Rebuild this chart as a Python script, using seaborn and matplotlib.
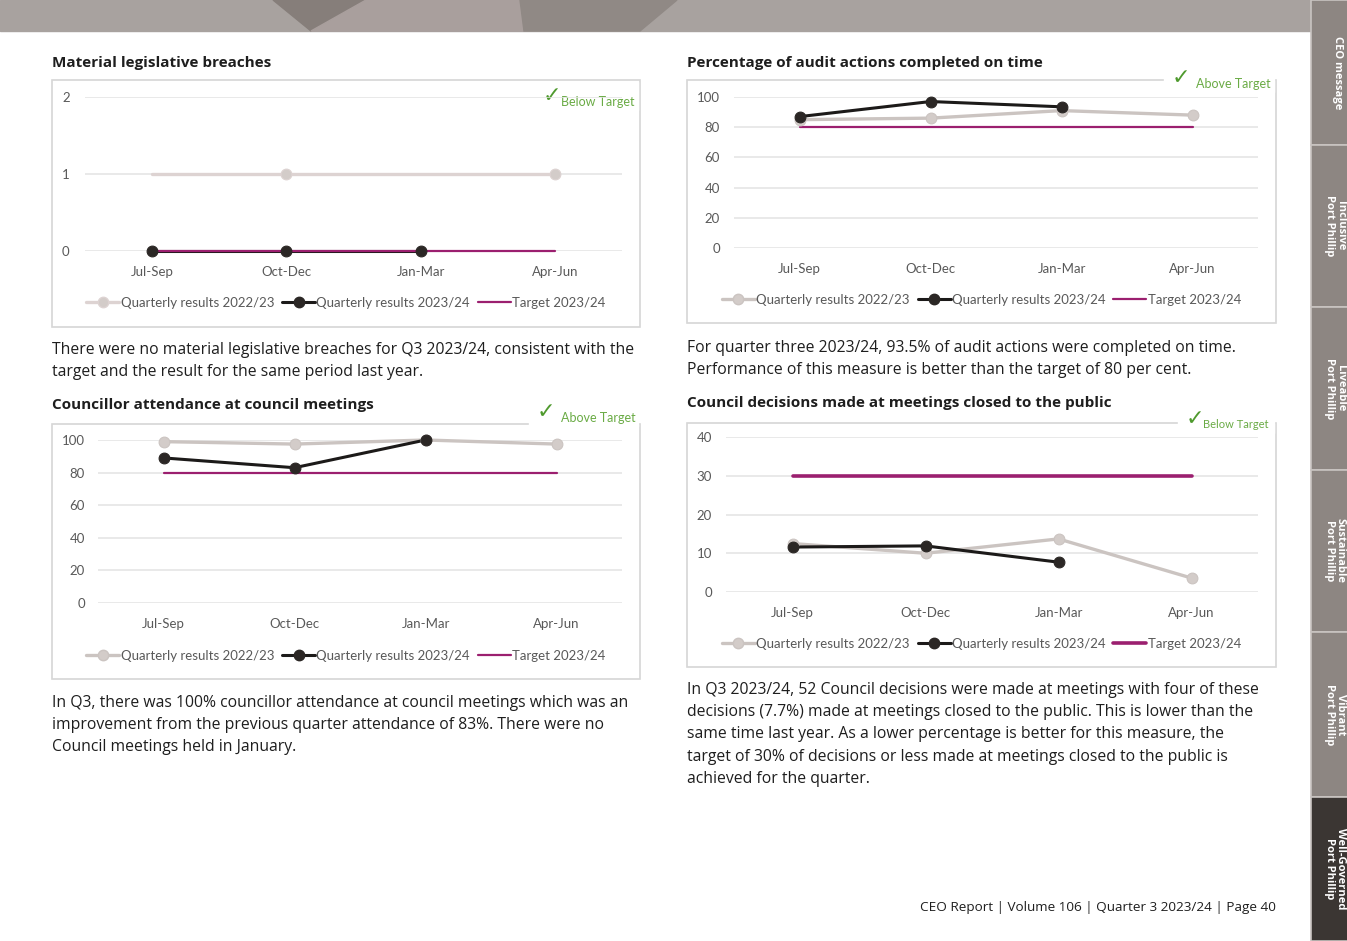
import numpy as np
import pandas as pd
import matplotlib
matplotlib.use('Agg')
import matplotlib.pyplot as plt
from matplotlib.patches import Rectangle, Polygon
from matplotlib.lines import Line2D
import seaborn as sns

# --- data ---
quarters = ["Jul-Sep", "Oct-Dec", "Jan-Mar", "Apr-Jun"]

breaches_2223 = [1, 1, 1, 1]
breaches_2324 = [0, 0, 0]
breaches_target = [0, 0, 0, 0]

audit_2223 = [85, 86, 91, 88]
audit_2324 = [87, 97, 93.5]
audit_target = [80, 80, 80, 80]

attend_2223 = [99, 97.5, 100, 97.5]
attend_2324 = [89, 83, 100]
attend_target = [80, 80, 80, 80]

closed_2223 = [12.5, 10, 13.7, 3.6]
closed_2324 = [11.6, 11.9, 7.7]
closed_target = [30, 30, 30, 30]

legend_labels = ["Quarterly results 2022/23", "Quarterly results 2023/24", "Target 2023/24"]

W, H = 1347, 941
sns.set_style('white')
plt.rcParams['font.family'] = ['Open Sans', 'DejaVu Sans']

fig = plt.figure(figsize=(W / 100, H / 100), dpi=100)
bg = fig.add_axes([0, 0, 1, 1])
bg.set_xlim(0, W)
bg.set_ylim(H, 0)
bg.axis('off')

GRAY_TXT = '#595959'
C_OLD = '#cbc4c1'
C_NEW = '#1c1a19'
C_DOT = '#2b2725'
C_TGT = '#9b1f6f'
GREEN = '#4f9a2e'

# header band
bg.add_patch(Rectangle((0, 0), 1312, 31, color='#a8a29f', zorder=1))
bg.add_patch(Polygon([(273, 0), (366, 0), (311, 31)], color='#867e7a', zorder=2))
bg.add_patch(Polygon([(366, 0), (520, 0), (524, 31), (311, 31)], color='#a99f9d', zorder=2))
bg.add_patch(Polygon([(520, 0), (677, 0), (640, 31), (524, 31)], color='#908985', zorder=2))

# side tabs
tab_edges = [0, 145, 307, 470, 632, 797, 941]
tab_names = ["CEO message", "Inclusive\nPort Phillip", "Liveable\nPort Phillip",
             "Sustainable\nPort Phillip", "Vibrant\nPort Phillip", "Well-Governed\nPort Phillip"]
for i, name in enumerate(tab_names):
    top, bot = tab_edges[i], tab_edges[i + 1]
    col = '#3b3633' if i == len(tab_names) - 1 else '#8d8682'
    bg.add_patch(Rectangle((1311, top), 40, bot - top, facecolor=col,
                           edgecolor='#c9c4c1', lw=1.2, zorder=2))
    cx = 1337 if i == 0 else 1335
    bg.text(cx, (top + bot) / 2, name, rotation=-90, ha='center', va='center',
            color='white', fontsize=8, fontweight='bold', linespacing=0.95,
            family=['Open Sans', 'DejaVu Sans'], zorder=3)


def panel(box, axbox, title, title_y, old, new, target, yticks, check, check_xy,
          text_xy, check_size, legend_y, body, body_y, ypad, tgt_lw=1.6,
          old_marks=None, old_color=C_OLD):
    bx0, by0, bx1, by1 = box
    bg.add_patch(Rectangle((bx0, by0), bx1 - bx0, by1 - by0, facecolor='white',
                           edgecolor='#d6d6d6', lw=1.2, zorder=1))
    bg.text(bx0, title_y, title, fontsize=11, fontweight='bold', color='#1e1e1e',
            va='center', ha='left', zorder=3)
    # check mark label sitting over the box border
    cx, cy = check_xy
    bg.add_patch(Rectangle((cx - 8, cy - 14), bx1 - cx + 6, 28, color='white', zorder=2))
    bg.text(cx, cy, "\u2713", fontsize=16, color=GREEN, family='DejaVu Sans',
            ha='left', va='center', zorder=3)
    bg.text(text_xy[0], text_xy[1], check, fontsize=check_size, color='#6aab45',
            family=['Lato', 'DejaVu Sans'], ha='left', va='center', zorder=3)

    x0, y0, x1, y1 = axbox
    ax = fig.add_axes([x0 / W, 1 - y1 / H, (x1 - x0) / W, (y1 - y0) / H])
    ax.set_facecolor('none')
    pos = np.arange(len(quarters))
    sns.lineplot(x=pos[:len(old)], y=old, ax=ax, color=old_color, lw=2.4,
                 legend=False, zorder=3, clip_on=False)
    sns.lineplot(x=pos[:len(new)], y=new, ax=ax, color=C_NEW, lw=2.2,
                 legend=False, zorder=4, clip_on=False)
    sns.lineplot(x=pos[:len(target)], y=target, ax=ax, color=C_TGT, lw=tgt_lw,
                 legend=False, zorder=5, clip_on=False)
    old_idx = list(range(len(old))) if old_marks is None else old_marks
    sns.scatterplot(x=pos[old_idx], y=np.asarray(old)[old_idx], ax=ax, s=60,
                    color='#d3ccc9', edgecolor=old_color, linewidth=0.8,
                    legend=False, zorder=6, clip_on=False)
    sns.scatterplot(x=pos[:len(new)], y=new, ax=ax, s=60, color=C_DOT,
                    edgecolor=C_DOT, linewidth=0.8, legend=False, zorder=7,
                    clip_on=False)
    ax.set_xlim(-0.5, len(quarters) - 0.5)
    ax.set_ylim(yticks[0], yticks[-1])
    ax.set_xticks(pos)
    ax.set_xticklabels(quarters)
    ax.set_yticks(yticks)
    ax.grid(axis='y', color='#e3e3e3', lw=1.1)
    ax.grid(axis='x', visible=False)
    for s in ax.spines.values():
        s.set_visible(False)
    ax.tick_params(length=0, labelsize=9.5, labelcolor=GRAY_TXT)
    ax.tick_params(axis='x', pad=11)
    ax.tick_params(axis='y', pad=ypad)
    for lab in ax.get_xticklabels() + ax.get_yticklabels():
        lab.set_family(['Lato', 'DejaVu Sans'])
    ax.set_xlabel('')
    ax.set_ylabel('')

    handles = [Line2D([], [], color=old_color, lw=2.4, marker='o', ms=7.5, mfc='#d3ccc9', mec=old_color),
               Line2D([], [], color=C_NEW, lw=2.2, marker='o', ms=7.5, mfc=C_DOT, mec=C_DOT),
               Line2D([], [], color=C_TGT, lw=tgt_lw)]
    leg = ax.legend(handles, legend_labels, loc='center', ncol=3, frameon=False,
                    bbox_to_anchor=((bx0 + bx1) / 2, legend_y), bbox_transform=bg.transData,
                    handlelength=2.5, handletextpad=0.1, columnspacing=0.6,
                    prop={'family': ['Lato', 'DejaVu Sans'], 'size': 9.5})
    for t in leg.get_texts():
        t.set_color(GRAY_TXT)

    for i, line in enumerate(body):
        bg.text(bx0, body_y + i * 22.2, line, fontsize=11.3, color='#1e1e1e',
                va='center', ha='left', zorder=3)
    return ax


panel((52, 80, 640, 327), (85, 97, 622, 251), "Material legislative breaches", 63,
      breaches_2223, breaches_2324, breaches_target, [0, 1, 2], "Below Target",
      (543, 96), (561, 102), 9, 303,
      ["There were no material legislative breaches for Q3 2023/24, consistent with the",
       "target and the result for the same period last year."], 350, 11,
      old_marks=[1, 3], old_color='#ddd3d2')

panel((687, 80, 1276, 323), (734, 97, 1258, 248), "Percentage of audit actions completed on time", 63,
      audit_2223, audit_2324, audit_target, [0, 20, 40, 60, 80, 100], "Above Target",
      (1172, 78), (1196, 84), 9, 300,
      ["For quarter three 2023/24, 93.5% of audit actions were completed on time.",
       "Performance of this measure is better than the target of 80 per cent."], 348, 10)

panel((52, 424, 640, 679), (98, 440, 622, 603), "Councillor attendance at council meetings", 405,
      attend_2223, attend_2324, attend_target, [0, 20, 40, 60, 80, 100], "Above Target",
      (537, 412), (561, 418), 9, 656,
      ["In Q3, there was 100% councillor attendance at council meetings which was an",
       "improvement from the previous quarter attendance of 83%. There were no",
       "Council meetings held in January."], 703, 9.5)

panel((687, 423, 1276, 667), (726, 437, 1258, 592), "Council decisions made at meetings closed to the public", 403,
      closed_2223, closed_2324, closed_target, [0, 10, 20, 30, 40], "Below Target",
      (1186, 419), (1203, 425), 8, 644,
      ["In Q3 2023/24, 52 Council decisions were made at meetings with four of these",
       "decisions (7.7%) made at meetings closed to the public. This is lower than the",
       "same time last year. As a lower percentage is better for this measure, the",
       "target of 30% of decisions or less made at meetings closed to the public is",
       "achieved for the quarter."], 690, 10, tgt_lw=2.6)

bg.text(1276, 907, "CEO Report | Volume 106 | Quarter 3 2023/24 | Page 40", fontsize=9.7,
        color='#1e1e1e', ha='right', va='center', zorder=3)

fig.savefig('out.png', dpi=100)
